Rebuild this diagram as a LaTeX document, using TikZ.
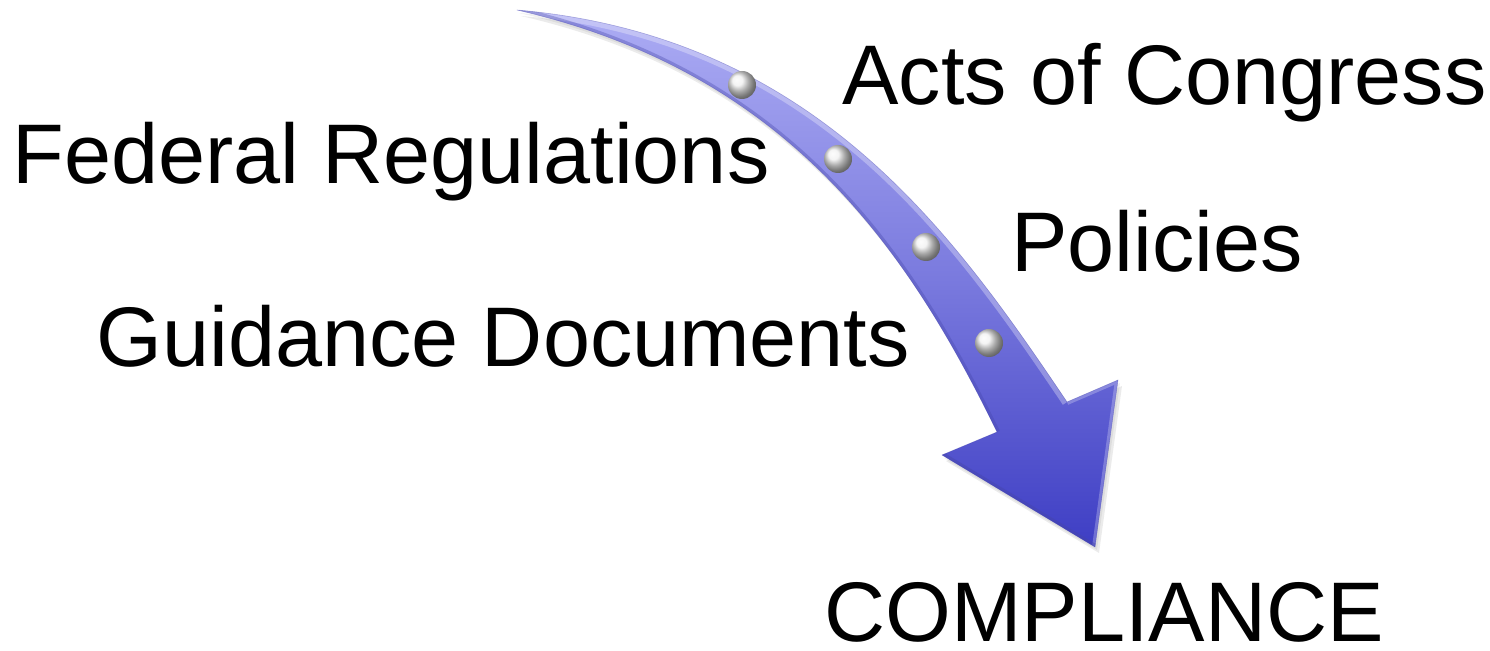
\documentclass[tikz,border=0pt]{standalone}
\usepackage{fontspec}
\setmainfont{Liberation Sans}
\begin{document}
\begin{tikzpicture}[x=0.5pt,y=-0.5pt,
  label/.style={anchor=base west,inner sep=0pt,font=\fontsize{42.3}{50}\selectfont},
  arrowbody/.style={top color=arrowtop,bottom color=arrowbottom,middle color=arrowmid},
  bead/.style={shading=ball,ball color=gray!12,circle,minimum size=14,inner sep=0pt}]
\definecolor{arrowtop}{RGB}{172,172,244}
\definecolor{arrowmid}{RGB}{122,122,222}
\definecolor{arrowbottom}{RGB}{62,62,196}
\definecolor{arrowedge}{RGB}{70,70,170}
\useasboundingbox (0,0) rectangle (1490,651);

% outline of the curved arrow: outer rim, head, inner rim
\def\arrowpath{(517,10) .. controls (816,36) and (955,236) .. (1067,402)
  -- (1118,380) -- (1095,547) -- (942,455) -- (997,432)
  .. controls (909,252) and (790,73) .. (517,10) -- cycle}

% soft shadow below the arrow
\begin{scope}[shift={(4,6)}]
  \fill[black,opacity=0.08] \arrowpath;
\end{scope}
\begin{scope}[shift={(2,3)}]
  \fill[black,opacity=0.06] \arrowpath;
\end{scope}

% arrow body
\shade[arrowbody] \arrowpath;
\begin{scope}
  \clip \arrowpath;
  % light band along the outer rim
  \draw[white,opacity=0.30,line width=5pt]
    (517,10) .. controls (816,36) and (955,236) .. (1067,402);
  % darker band along the inner rim
  \draw[arrowedge,opacity=0.35,line width=3pt]
    (997,432) .. controls (909,252) and (790,73) .. (517,10);
  % bevel on the arrow head
  \draw[white,opacity=0.25,line width=3pt] (1067,402) -- (1118,380) -- (1095,547);
  \draw[arrowedge,opacity=0.45,line width=3pt] (1095,547) -- (942,455);
\end{scope}
\draw[arrowedge,opacity=0.35,line width=0.3pt,line join=round] \arrowpath;

% rivets
\node[bead] (b1) at (742,85) {};
\node[bead] (b2) at (838,159) {};
\node[bead] (b3) at (926,247) {};
\node[bead] (b4) at (989,343) {};

% labels
\node[label] (acts) at (842,105) {Acts of Congress};
\node[label] (fed) at (12,184) {Federal Regulations};
\node[label] (pol) at (1011,272) {Policies};
\node[label] (guid) at (96,367) {Guidance Documents};
\node[label] (comp) at (824,642) {COMPLIANCE};
\end{tikzpicture}
\end{document}
